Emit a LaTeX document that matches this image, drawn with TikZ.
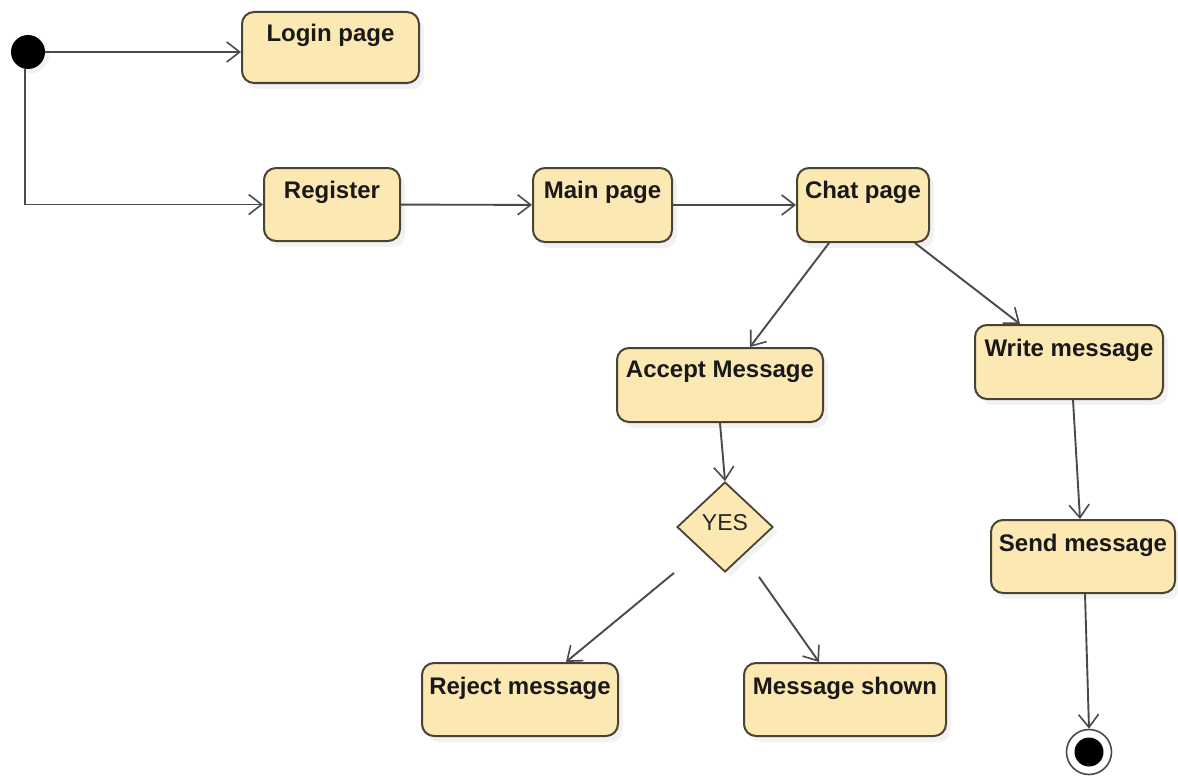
\documentclass[tikz,border=0pt]{standalone}
\usepackage{fontspec}
\setmainfont{Liberation Sans}
\usetikzlibrary{arrows.meta,shapes.geometric,shadows,calc}
\definecolor{boxfill}{HTML}{FCE8B2}
\definecolor{boxdraw}{HTML}{4A4232}
\definecolor{linec}{HTML}{4A4A4A}
\begin{document}
\begin{tikzpicture}[x=1pt,y=-1pt,
  state/.style={draw=boxdraw, line width=2pt, fill=boxfill, rounded corners=12pt,
    inner sep=0pt, drop shadow={shadow xshift=5pt, shadow yshift=-6pt, opacity=0.10}},
  lbl/.style={font=\fontsize{24}{28}\selectfont\bfseries, text=black!90, inner sep=0pt},
  flow/.style={draw=linec, line width=1.9pt,
    -{Straight Barb[length=13pt,width=20pt,line width=1.6pt]}}]
\useasboundingbox (0,0) rectangle (1178,776);

% initial state
\node[circle, fill=black, minimum size=34pt, inner sep=0pt,
  drop shadow={shadow xshift=4pt, shadow yshift=-4pt, opacity=0.10}] (init) at (28,52) {};

% states
\node[state, minimum width=177pt, minimum height=71pt] (login) at (330.5,47.5) {};
\node[lbl] (loginT) at ([yshift=-24pt]login.north) {Login page};

\node[state, minimum width=136pt, minimum height=73pt] (register) at (332,204.5) {};
\node[lbl] (registerT) at ([yshift=-25pt]register.north) {Register};

\node[state, minimum width=139pt, minimum height=74pt] (main) at (602.5,205) {};
\node[lbl] (mainT) at ([yshift=-25pt]main.north) {Main page};

\node[state, minimum width=132pt, minimum height=74pt] (chat) at (863,205) {};
\node[lbl] (chatT) at ([yshift=-25pt]chat.north) {Chat page};

\node[state, minimum width=206pt, minimum height=74pt] (accept) at (720,385) {};
\node[lbl] (acceptT) at ([yshift=-25pt]accept.north) {Accept Message};

\node[state, minimum width=188pt, minimum height=74pt] (write) at (1069,362) {};
\node[lbl] (writeT) at ([yshift=-26pt]write.north) {Write message};

\node[state, minimum width=184pt, minimum height=73pt] (send) at (1083,556.5) {};
\node[lbl] (sendT) at ([yshift=-26pt]send.north) {Send message};

\node[state, minimum width=196pt, minimum height=73pt] (reject) at (520,699.5) {};
\node[lbl] (rejectT) at ([yshift=-26pt]reject.north) {Reject message};

\node[state, minimum width=202pt, minimum height=73pt] (msg) at (845,699.5) {};
\node[lbl] (msgT) at ([yshift=-26pt]msg.north) {Message shown};

% decision
\node[diamond, draw=boxdraw, line width=1.8pt, fill=boxfill, inner sep=0pt,
  minimum width=96pt, minimum height=90pt,
  drop shadow={shadow xshift=5pt, shadow yshift=-5pt, opacity=0.10}] (dia) at (725,527) {};
\node[font=\fontsize{23}{27}\selectfont, text=black!85, inner sep=0pt] (diaT) at ([yshift=4pt]dia.center) {YES};

% final state
\node[circle, draw=linec, line width=1.6pt, fill=white, minimum size=45pt, inner sep=0pt] (final) at (1089,752) {};
\node[circle, fill=black, minimum size=29pt, inner sep=0pt] (finalin) at (final.center) {};

% connectors
\draw[flow] (init.east) -- (init.east -| login.west);
\draw[flow] ([xshift=-3pt]init.south) |- (register.west);
\draw[flow] (register) -- (main);
\draw[flow] (main) -- (chat);
\draw[flow] ([xshift=-34pt]chat.south) -- ([xshift=30pt]accept.north);
\draw[flow] ([xshift=52pt]chat.south) -- ([xshift=-49pt]write.north);
\draw[flow] (accept.south) -- (dia.north);
\draw[flow] ([xshift=-51pt]dia.south) -- ([xshift=46pt]reject.north);
\draw[flow] ([xshift=34pt,yshift=-4pt]dia.south) -- ([xshift=-26pt]msg.north);
\draw[flow] ([xshift=4pt]write.south) -- ([xshift=-3pt]send.north);
\draw[flow] ([xshift=2pt]send.south) -- (final.north);
\end{tikzpicture}
\end{document}
